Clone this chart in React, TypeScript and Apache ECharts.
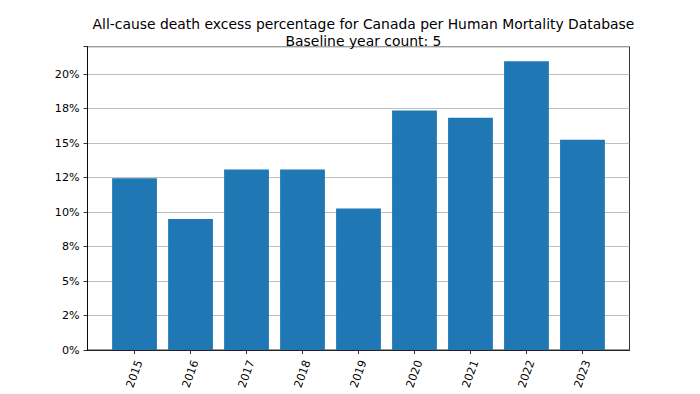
import React, { useEffect, useRef } from "react";
import * as echarts from "echarts";

const titleLines = [
  "All-cause death excess percentage for Canada per Human Mortality Database",
  "Baseline year count: 5",
];
const years = ["2015", "2016", "2017", "2018", "2019", "2020", "2021", "2022", "2023"];
const excessPct = [12.45, 9.49, 13.09, 13.09, 10.26, 17.36, 16.83, 20.94, 15.25];
const yTickLabels = ["0%", "2%", "5%", "8%", "10%", "12%", "15%", "18%", "20%"];
const yTickStep = 2.5;

export default function App() {
  const ref = useRef<HTMLDivElement>(null);
  useEffect(() => {
    if (!ref.current) return;
    const chart = echarts.init(ref.current, undefined, { renderer: "svg" });
    const font = "'DejaVu Sans', sans-serif";
    const maxVal = Math.max(...excessPct) * 1.05;
    const n = years.length;
    chart.setOption({
      animation: false,
      backgroundColor: "#ffffff",
      textStyle: { fontFamily: font },
      title: {
        text: titleLines.join("\n"),
        left: 358.5,
        top: 11,
        textAlign: "center",
        textStyle: { fontFamily: font, fontSize: 13.9, fontWeight: "normal", color: "#000", lineHeight: 16.5 },
      },
      grid: {
        left: 87.5,
        right: 70.5,
        top: 46.7,
        bottom: 44,
        show: true,
        borderColor: "#000",
        borderWidth: 0.8,
        backgroundColor: "transparent",
      },
      xAxis: {
        type: "value",
        min: -0.84,
        max: n - 1 + 0.84,
        splitLine: { show: false },
        axisLine: { show: true, onZero: false, lineStyle: { color: "#000", width: 0.8 } },
        axisTick: { show: true, length: 4, customValues: years.map((_, i) => i), lineStyle: { color: "#000", width: 0.8 } },
        axisLabel: {
          customValues: years.map((_, i) => i),
          formatter: (v: number) => years[Math.round(v)] ?? "",
          rotate: 70,
          align: "center",
          verticalAlign: "middle",
          margin: 24,
          fontFamily: font,
          fontSize: 11.1,
          color: "#000",
        },
      },
      yAxis: {
        type: "value",
        min: 0,
        max: maxVal,
        interval: yTickStep,
        splitLine: { show: true, lineStyle: { color: "#b0b0b0", width: 0.8 } },
        axisLine: { show: true, onZero: false, lineStyle: { color: "#000", width: 0.8 } },
        axisTick: { show: true, length: 4, lineStyle: { color: "#000", width: 0.8 } },
        axisLabel: {
          formatter: (v: number) => {
            const idx = Math.round(v / yTickStep);
            return Math.abs(idx * yTickStep - v) < 1e-6 ? yTickLabels[idx] ?? "" : "";
          },
          margin: 8,
          fontFamily: font,
          fontSize: 11.1,
          color: "#000",
        },
      },
      series: [
        {
          type: "bar",
          data: excessPct.map((v, i) => [i, v]),
          barWidth: "80%",
          itemStyle: { color: "#1f77b4" },
        },
      ],
    });
    return () => chart.dispose();
  }, []);
  return <div ref={ref} style={{ position: "absolute", left: 0, top: 0, width: 700, height: 394 }} />;
}
